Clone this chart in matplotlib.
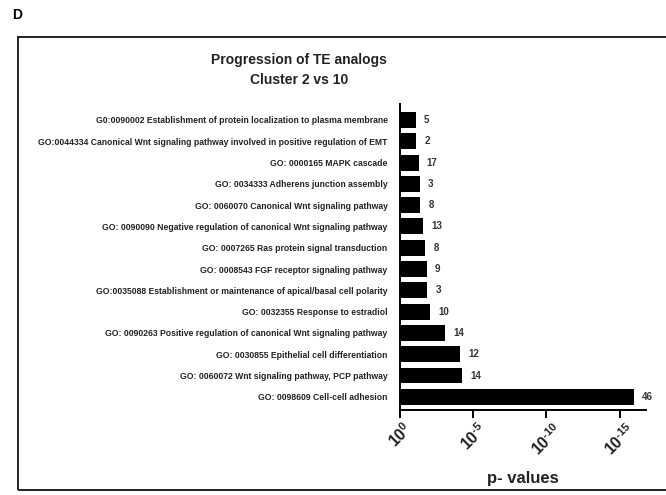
import matplotlib
matplotlib.use('Agg')
import matplotlib.pyplot as plt
from matplotlib.patches import Rectangle
import numpy as np

plt.rcParams['font.family'] = ['Liberation Sans', 'DejaVu Sans']
plt.rcParams['mathtext.fontset'] = 'custom'
plt.rcParams['mathtext.rm'] = 'Liberation Sans:bold'
plt.rcParams['mathtext.bf'] = 'Liberation Sans:bold'

# GO terms, top to bottom
terms = [
    'G0:0090002 Establishment of protein localization to plasma membrane',
    'GO:0044334 Canonical Wnt signaling pathway involved in positive regulation of EMT',
    'GO: 0000165 MAPK cascade',
    'GO: 0034333 Adherens junction assembly',
    'GO: 0060070 Canonical Wnt signaling pathway',
    'GO: 0090090 Negative regulation of canonical Wnt signaling pathway',
    'GO: 0007265 Ras protein signal transduction',
    'GO: 0008543 FGF receptor signaling pathway',
    'GO:0035088 Establishment or maintenance of apical/basal cell polarity',
    'GO: 0032355 Response to estradiol',
    'GO: 0090263 Positive regulation of canonical Wnt signaling pathway',
    'GO: 0030855 Epithelial cell differentiation',
    'GO: 0060072 Wnt signaling pathway, PCP pathway',
    'GO: 0098609 Cell-cell adhesion',
]
# -log10(p)
neg_log_p = [1.1, 1.1, 1.28, 1.34, 1.39, 1.6, 1.73, 1.84, 1.86, 2.05, 3.1, 4.12, 4.23, 16.0]
# genes per term
gene_counts = [5, 2, 17, 3, 8, 13, 8, 9, 3, 10, 14, 12, 14, 46]
tick_exps = [0, 5, 10, 15]

fig = plt.figure(figsize=(6.66, 4.95), dpi=100)

# outer frame
fig.patches.append(Rectangle((18 / 666, 1 - 490 / 495), 1.0, (490 - 37) / 495,
                             transform=fig.transFigure, fill=False,
                             edgecolor='#222222', linewidth=1.4, clip_on=False))
fig.text(12 / 666, 1 - 15 / 495, 'D', fontsize=10, fontweight='bold', va='center')
fig.text(299 / 666, 1 - 60 / 495, 'Progression of TE analogs', fontsize=10,
         fontweight='bold', ha='center', va='center', color='#222222')
fig.text(299 / 666, 1 - 80 / 495, 'Cluster 2 vs 10', fontsize=10,
         fontweight='bold', ha='center', va='center', color='#222222')

ax = fig.add_axes([400 / 666, 1 - 410 / 495, 246 / 666, 306 / 495])
y = np.arange(len(terms))
ax.barh(y, neg_log_p, height=0.75, color='black')
for yi, v, n in zip(y, neg_log_p, gene_counts):
    ax.text(v + 0.55, yi, str(n), va='center', ha='left', fontsize=7,
            fontweight='bold', color='#333333')

ax.set_ylim(len(terms) - 0.38, -0.75)
ax.set_xlim(0, 16.8)
ax.set_yticks(y)
ax.set_yticklabels(terms, fontsize=6.25, fontweight='bold', color='#222222')
ax.tick_params(axis='y', length=0, pad=9)

ax.set_xticks(tick_exps)
ax.set_xticklabels([r'$\mathbf{10^{\text{%s}}}$' % ('-%d' % e if e else '0') for e in tick_exps],
                   rotation=45, fontsize=11.5, ha='center', va='top', color='#222222')
ax.tick_params(axis='x', length=6, width=1.4, pad=1)
ax.set_xlabel('p- values', fontsize=12, fontweight='bold', labelpad=9, color='#222222')

for s in ['top', 'right']:
    ax.spines[s].set_visible(False)
for s in ['left', 'bottom']:
    ax.spines[s].set_linewidth(1.4)

fig.savefig('out.png', dpi=100)
